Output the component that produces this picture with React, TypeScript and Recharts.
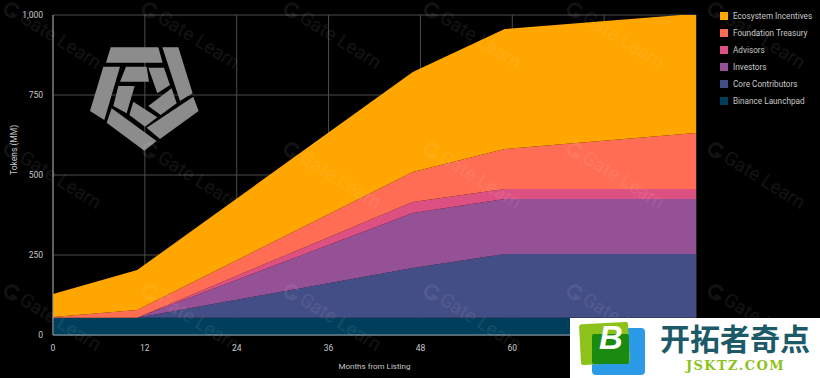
import { AreaChart, Area, CartesianGrid, XAxis, YAxis, Legend } from 'recharts';

const months = [0, 11, 47, 59, 82, 84];
const launchpad = [54, 54, 54, 54, 54, 54];
const core = [0, 0, 155, 199, 199, 199];
const investors = [0, 0, 172, 172, 172, 172];
const advisors = [0, 0, 35, 31, 31, 31];
const treasury = [2, 24, 93, 125, 171, 175];
const ecosystem = [72, 125, 313, 375, 373, 369];

const xTicks = [0, 12, 24, 36, 48, 60, 72, 84];
const yTicks = [0, 250, 500, 750, 1000];

const SERIES = [
  { name: 'Binance Launchpad', key: 'launchpad', color: '#003F5C', values: launchpad },
  { name: 'Core Contributors', key: 'core', color: '#444E86', values: core },
  { name: 'Investors', key: 'investors', color: '#955196', values: investors },
  { name: 'Advisors', key: 'advisors', color: '#DD5182', values: advisors },
  { name: 'Foundation Treasury', key: 'treasury', color: '#FF6E54', values: treasury },
  { name: 'Ecosystem Incentives', key: 'ecosystem', color: '#FFA600', values: ecosystem },
];

const data = months.map((month, i) => {
  const row: Record<string, number> = { month };
  SERIES.forEach((s) => { row[s.key] = s.values[i]; });
  return row;
});

const FONT = 'Roboto, sans-serif';
const TEXT = '#c8c8c8';

const logoShapes = [
  '332,142 475,142 488,188 318,188',
  '487,142 535,142 578,280 540,303',
  '310,200 360,200 313,360 270,333',
  '580,290 596,333 480,417 440,383',
  '335,325 470,423 433,452 320,368',
  '378,200 440,200 447,245 360,245',
  '445,203 492,203 510,255 472,280',
  '515,265 530,310 482,345 445,318',
  '400,305 472,352 435,380 388,345',
  '355,258 404,258 380,340 340,318',
];

const markX = [12, 150, 292, 432, 575, 716];
const markY = [10, 150, 292];

const renderLegend = () => (
  <div style={{ fontFamily: FONT, fontSize: 8.2, color: TEXT }}>
    {[...SERIES].reverse().map((s) => (
      <div key={s.key} style={{ height: 17, display: 'flex', alignItems: 'center' }}>
        <span style={{ width: 8, height: 8, background: s.color, marginRight: 5, display: 'inline-block' }} />
        {s.name}
      </div>
    ))}
  </div>
);

const App = () => (
  <div style={{ position: 'absolute', left: 0, top: 0, width: 820, height: 378, background: '#000', overflow: 'hidden' }}>
    <AreaChart width={820} height={378} data={data} margin={{ top: 15, right: 24, bottom: 0, left: 0 }}>
      <CartesianGrid stroke='#4c4c4c' strokeWidth={1} />
      <XAxis
        dataKey='month'
        type='number'
        domain={[0, 84]}
        ticks={xTicks}
        height={43}
        tickLine={false}
        axisLine={{ stroke: '#8fa6b2', strokeWidth: 1 }}
        tick={{ fill: TEXT, fontSize: 8.5, fontFamily: FONT }}
        tickMargin={4}
        label={{ value: 'Months from Listing', position: 'insideBottom', offset: 9, fill: TEXT, fontSize: 8, fontFamily: FONT }}
      />
      <YAxis
        domain={[0, 1000]}
        ticks={yTicks}
        width={53}
        tickLine={false}
        axisLine={{ stroke: '#9a9a9a', strokeWidth: 1 }}
        tick={{ fill: TEXT, fontSize: 8.5, fontFamily: FONT }}
        tickMargin={4}
        tickFormatter={(v: number) => v.toLocaleString('en-US')}
        label={{ value: 'Tokens (MM)', angle: -90, position: 'insideLeft', offset: 14, fill: TEXT, fontSize: 8.5, fontFamily: FONT }}
      />
      <Legend
        layout='vertical'
        align='right'
        verticalAlign='top'
        width={100}
        content={renderLegend}
        wrapperStyle={{ left: 720, top: 7, right: 'auto' }}
      />
      {SERIES.map((s) => (
        <Area
          key={s.key}
          dataKey={s.key}
          name={s.name}
          stackId='tokens'
          type='linear'
          fill={s.color}
          fillOpacity={1}
          stroke='none'
          dot={false}
          activeDot={false}
          isAnimationActive={false}
        />
      ))}
    </AreaChart>

    {/* logo + watermarks + corner badge, sit on top of the chart */}
    <svg width={820} height={378} style={{ position: 'absolute', left: 0, top: 0, pointerEvents: 'none' }}>
      <g transform='scale(0.3333)'>
        {logoShapes.map((p) => <polygon key={p} points={p} fill='#8c8c8c' />)}
      </g>
      {markY.map((y) => markX.map((x) => (
        <g key={`${x}-${y}`} transform={`translate(${x},${y}) rotate(32)`} opacity={0.07}>
          <path d='M 5 -4 A 6.5 6.5 0 1 0 6 3 L 1 3' fill='none' stroke='#fff' strokeWidth={3} />
          <text x={11} y={6} fontFamily={FONT} fontSize={19} fill='#fff'>Gate Learn</text>
        </g>
      )))}
      <rect x={570} y={318} width={250} height={60} fill='#fff' />
      <rect x={592} y={328} width={53} height={47} rx={4} fill='#2b9be8' />
      <rect x={580} y={323} width={49} height={41} rx={3} fill='#8cc21a' transform='rotate(-3 604 343)' />
      <rect x={592} y={334} width={37} height={30} rx={2} fill='#1a8a10' />
      <text x={599} y={349} fontFamily='Liberation Sans' fontWeight={700} fontStyle='italic' fontSize={33} fill='#fff'>B</text>
      <text x={660} y={350} fontFamily='"Noto Sans CJK SC"' fontWeight={700} fontSize={30} fill='#1d5a68'>开拓者奇点</text>
      <text x={686} y={370} fontFamily='"DejaVu Serif"' fontWeight={700} fontSize={13} letterSpacing={1.4} fill='#8cc21a'>JSKTZ.COM</text>
    </svg>
  </div>
);

export default App;
